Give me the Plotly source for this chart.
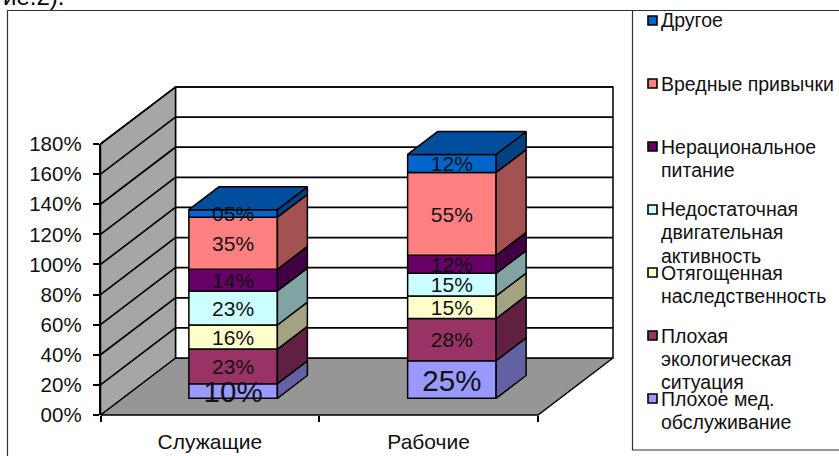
import plotly.graph_objects as go

categories = ["Служащие", "Рабочие"]
series_names = [["Плохое мед.", "обслуживание"], ["Плохая", "экологическая", "ситуация"],
                ["Отягощенная", "наследственность"], ["Недостаточная", "двигательная", "активность"],
                ["Нерациональное", "питание"], ["Вредные привычки"], ["Другое"]]
clerks = [9.7, 23, 16, 22.6, 14.4, 34.6, 5]
workers = [25, 28, 15, 15, 12, 55, 12]
colors = ["#9999FF", "#993366", "#FFFFCC", "#CCFFFF", "#660066", "#FF8080", "#0066CC"]
tick_values = [0, 20, 40, 60, 80, 100, 120, 140, 160, 180]
tick_labels = ["00%", "20%", "40%", "60%", "80%", "100%", "120%", "140%", "160%", "180%"]
label_sizes = [29.5, 21, 21, 21, 21, 21, 21]

W, H = 839, 456
X0, X1, Y0, Y180 = 100.5, 538.0, 415.0, 144.0
DX, DY = 75.0, 57.0
PX_X = (X1 - X0) / 2
PX_Y = (Y0 - Y180) / 180
CX = X0 + PX_X / 2
dxu, dyu = DX / PX_X, DY / PX_Y
FONT = "Liberation Sans, Arial, sans-serif"
BAR_W = 88.5 / PX_X
D_FRONT_X, D_FRONT_Y, D_LEN = 0.31, 0.293, 0.40


def darker(hex_color, k):
    return "#%02x%02x%02x" % tuple(int(int(hex_color[i:i + 2], 16) * k) for i in (1, 3, 5))


def poly(xs, ys, fill, axes="", lw=1.5, lc="black"):
    return go.Scatter(x=xs + xs[:1], y=ys + ys[:1], mode="lines", fill="toself", fillcolor=fill,
                      line=dict(color=lc, width=lw), hoverinfo="skip", showlegend=False,
                      xaxis="x" + axes, yaxis="y" + axes)


fig = go.Figure()
xl, xr = -0.5, 1.5
top = tick_values[-1]
# floor, left wall, back wall
fig.add_trace(poly([xl, xr, xr + dxu, xl + dxu], [0, 0, dyu, dyu], "#969696"))
fig.add_trace(poly([xl + dxu, xr + dxu, xr + dxu, xl + dxu], [dyu, dyu, top + dyu, top + dyu], "white"))
fig.add_trace(poly([xl, xl + dxu, xl + dxu, xl], [0, dyu, top + dyu, top], "#A6A6A6"))
for v in tick_values[1:]:
    fig.add_trace(go.Scatter(x=[xl, xl + dxu, xr + dxu], y=[v, v + dyu, v + dyu], mode="lines",
                             line=dict(color="black", width=1.7), hoverinfo="skip", showlegend=False))

# hidden carrier of the category axis
fig.add_trace(go.Scatter(x=categories, y=[0, 0], mode="none", hoverinfo="skip", showlegend=False,
                         xaxis="x2", yaxis="y2"))

# bars on an overlay so they lie above the walls
y_off = D_FRONT_Y * dyu
x_off = D_FRONT_X * dxu
lab_x, lab_y, lab_t, lab_s = [], [], [], []
for ci, vals in enumerate([clerks, workers]):
    base = y_off
    xc = ci + x_off
    right = xc + BAR_W / 2
    left = xc - BAR_W / 2
    sx, sy = D_LEN * dxu, D_LEN * dyu
    for si, v in enumerate(vals):
        fig.add_trace(go.Bar(x=[xc], y=[v], base=[base], width=[BAR_W], marker=dict(
            color=colors[si], line=dict(color="black", width=1.5)), hoverinfo="skip", showlegend=False,
            xaxis="x3", yaxis="y3"))
        fig.add_trace(poly([right, right + sx, right + sx, right],
                           [base, base + sy, base + v + sy, base + v], darker(colors[si], 0.64), "3"))
        lab_x.append(xc)
        lab_y.append(base + v / 2 - (4.0 if si == 0 else 2.5) / PX_Y)
        lab_t.append(f"{v:02.0f}%")
        lab_s.append(label_sizes[si])
        base += v
    fig.add_trace(poly([left, right, right + sx, left + sx], [base, base, base + sy, base + sy],
                       darker(colors[-1], 0.77), "3"))
fig.add_trace(go.Scatter(x=lab_x, y=lab_y, text=lab_t, mode="text", textposition="middle center",
                         textfont=dict(family=FONT, size=lab_s, color="#111111"), hoverinfo="skip",
                         showlegend=False, xaxis="x3", yaxis="y3", cliponaxis=False))

page_x = [(0 - CX) / PX_X, (W - CX) / PX_X]
page_y = [(Y0 - H) / PX_Y, Y0 / PX_Y]
hidden = dict(visible=False, fixedrange=True)

shapes = [
    dict(type="rect", xref="paper", yref="paper", x0=7.5 / W, x1=1.01, y0=-0.02, y1=1 - 10.5 / H,
         line=dict(color="#333333", width=1.2), fillcolor="white", layer="below"),
    dict(type="rect", xref="paper", yref="paper", x0=632.5 / W, x1=1.01, y0=1 - 450 / H, y1=1 - 10.5 / H,
         line=dict(color="#333333", width=1.2), fillcolor="white", layer="below"),
]
annotations = [
    dict(text="ие.2).", xref="paper", yref="paper", x=66 / W, y=1 - 12 / H, xanchor="right", yanchor="bottom",
         showarrow=False, font=dict(family=FONT, size=24, color="black")),
]
first_center, step, line_step = 20.5, 63.0, 23.0
for i, lines in enumerate(reversed(series_names)):
    yc = first_center + i * step
    color = list(reversed(colors))[i]
    shapes.append(dict(type="rect", xref="paper", yref="paper", x0=648 / W, x1=657 / W,
                       y0=1 - (yc + 4.5) / H, y1=1 - (yc - 4.5) / H, fillcolor=color,
                       line=dict(color="black", width=1.6), layer="above"))
    for j, line in enumerate(lines):
        annotations.append(dict(text=line, xref="paper", yref="paper", x=660 / W,
                                y=1 - (yc + j * line_step) / H, xanchor="left", yanchor="middle",
                                align="left", showarrow=False, borderpad=0,
                                font=dict(family=FONT, size=19.5, color="#111111")))

fig.update_layout(
    width=W, height=H, margin=dict(l=0, r=0, t=0, b=0), paper_bgcolor="white", plot_bgcolor="rgba(0,0,0,0)",
    showlegend=False, barmode="overlay", shapes=shapes, annotations=annotations,
    xaxis=dict(range=page_x, domain=[0, 1], **hidden),
    yaxis=dict(range=page_y, domain=[0, 1], **hidden),
    xaxis3=dict(range=page_x, domain=[0, 1], overlaying="x", anchor="y3", **hidden),
    yaxis3=dict(range=page_y, domain=[0, 1], overlaying="y", anchor="x3", **hidden),
    xaxis2=dict(type="category", categoryorder="array", categoryarray=categories, range=[-0.5, 1.5],
                domain=[X0 / W, X1 / W], anchor="y2", tickson="boundaries", ticks="outside",
                ticklen=6, tickwidth=1.5, tickcolor="black", showline=False, showgrid=False, automargin=False,
                ticklabelstandoff=12,
                tickfont=dict(family=FONT, size=21, color="#111111"), fixedrange=True),
    yaxis2=dict(range=[0, top], domain=[1 - Y0 / H, 1 - Y180 / H], anchor="x2", automargin=False,
                tickmode="array", tickvals=tick_values, ticktext=tick_labels, ticks="outside", ticklen=6,
                ticklabelstandoff=7,
                tickwidth=1.5, tickcolor="black", showline=True, linecolor="black", linewidth=1.5, showgrid=False,
                zeroline=False, tickfont=dict(family=FONT, size=20.5, color="#111111"), fixedrange=True),
)

fig.write_html("out.html", config={"displayModeBar": False},
               post_script="document.body.style.margin='0';document.body.style.overflow='hidden';")
